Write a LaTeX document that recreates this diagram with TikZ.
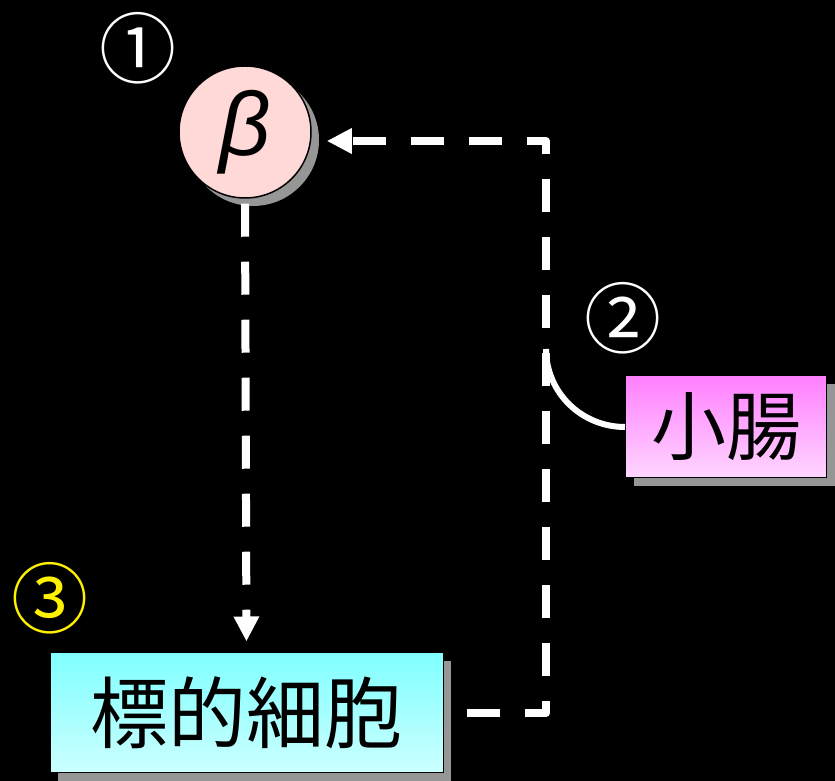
\documentclass[tikz,border=0pt]{standalone}
\usepackage{fontspec}
\setmainfont{Noto Sans CJK JP}
\newfontfamily\greekfont{Liberation Sans}
\usepackage{tikz}
\usetikzlibrary{arrows.meta, positioning, calc, shadows}

\definecolor{hormonepink}{RGB}{255,216,216}
\definecolor{gutmagenta}{RGB}{255,128,255}
\definecolor{gutlight}{RGB}{255,214,255}
\definecolor{cellcyan}{RGB}{128,255,255}
\definecolor{celllight}{RGB}{204,255,255}
\definecolor{shadowgray}{RGB}{150,150,150}

\begin{document}
\begin{tikzpicture}[x=1pt, y=1pt,
    boxshadow/.style={drop shadow={shadow xshift=8pt, shadow yshift=-8pt,
        fill=shadowgray, opacity=1}},
    flow/.style={white, line width=8pt, dash pattern=on 33pt off 25pt,
        line join=round, -{Triangle[length=25pt, width=24pt]}},
    marker/.style={font=\fontsize{77}{77}\selectfont, inner sep=0pt}]
  % black page
  \fill[black] (0,0) rectangle (835,781);
  % beta cell hormone
  \node[circle, draw=black, line width=1.5pt, fill=hormonepink,
        minimum size=132pt, inner sep=0pt, boxshadow] (beta) at (245,649)
    {\greekfont\itshape\fontsize{90}{90}\selectfont β};
  % small intestine
  \node[draw=black, line width=1pt, top color=gutmagenta, bottom color=gutlight,
        minimum width=201pt, minimum height=102pt, inner sep=0pt, boxshadow]
    (intestine) at (726,354) {\fontsize{75}{75}\selectfont 小腸};
  % target cell
  \node[draw=black, line width=1pt, top color=cellcyan, bottom color=celllight,
        minimum width=393pt, minimum height=120pt, inner sep=0pt, boxshadow]
    (target) at (246.5,68) {\fontsize{78}{78}\selectfont 標的細胞};
  % step numbers
  \node[marker, white] (one) at (138,733) {①};
  \node[marker, white] (two) at (623,463) {②};
  \node[marker, yellow] (three) at (50,183) {③};
  % feedback route
  \coordinate (turn) at (546,640);
  \coordinate (tap) at (546,432);
  \draw[flow, shorten <=5pt, shorten >=11pt] (beta.south) -- (target.north);
  \draw[flow, shorten <=23pt, shorten >=15pt]
    (target.east) -| (turn) -- ([yshift=-9pt]beta.east);
  \draw[white, line width=6pt] (intestine.west) to[out=180, in=-90] (tap);
\end{tikzpicture}
\end{document}
